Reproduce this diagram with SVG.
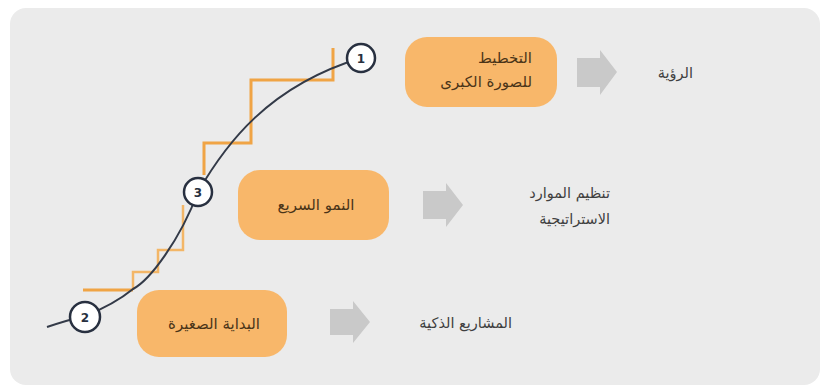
<svg xmlns="http://www.w3.org/2000/svg" width="822" height="389" viewBox="0 0 822 389">
<style>
.box{fill:#f8b76a;}
.btxt{font-family:"DejaVu Sans",sans-serif;font-size:15px;fill:#4a3418;}
.otxt{font-family:"DejaVu Sans",sans-serif;font-size:14.5px;fill:#3f3f3f;}
.arr{fill:#c9c9c9;}
.num{fill:#ffffff;stroke:#283040;stroke-width:2.5;}
.ntxt{font-family:"DejaVu Sans",sans-serif;font-size:12px;font-weight:bold;fill:#283040;text-anchor:middle;}
.stair{fill:none;stroke:#f0a445;stroke-width:3;}
.stair2{fill:none;stroke:#f3b667;stroke-width:2.5;}
.curve{fill:none;stroke:#333a48;stroke-width:2;}
</style>
<rect x="0" y="0" width="822" height="389" fill="#ffffff"/>
<rect x="10" y="8" width="810" height="377" rx="16" fill="#ebebeb"/>
<g id="connectors">
<path class="stair" d="M333,48 V80 H251 V143 H204 V175"/>
<path class="stair2" d="M183,205 V250 H158 V272 H133 V290"/>
<path class="stair" d="M83,290 H133"/>
<path class="curve" d="M47,327 C62,322 72,319 85,316 C105,308 122,298 133,289 C150,280 180,240 198,192 C225,145 268,86 361,58"/>
<path id="arrow1" class="arr" d="M577,58 H600 V50 L617,72 L600,95 V87 H577 Z"/>
<path id="arrow2" class="arr" d="M423,191 H446 V183 L463,205 L446,227 V219 H423 Z"/>
<path id="arrow3" class="arr" d="M330,309 H353 V301 L370,322 L353,343 V335 H330 Z"/>
</g>
<g id="step1">
<circle class="num" cx="361" cy="58" r="14"/>
<text class="ntxt" x="361" y="62.5">1</text>
</g>
<g id="step3">
<circle class="num" cx="198" cy="192" r="14"/>
<text class="ntxt" x="198" y="196.5">3</text>
</g>
<g id="step2">
<circle class="num" cx="85" cy="317" r="15"/>
<text class="ntxt" x="85" y="321.5">2</text>
</g>
<g id="box1">
<rect class="box" x="405" y="37" width="152" height="70" rx="22"/>
<text class="btxt" x="532" y="63" text-anchor="end">التخطيط</text>
<text class="btxt" x="532" y="87" text-anchor="end">للصورة الكبرى</text>
</g>
<g id="box2">
<rect class="box" x="238" y="170" width="151" height="70" rx="22"/>
<text class="btxt" x="316" y="210" text-anchor="middle">النمو السريع</text>
</g>
<g id="box3">
<rect class="box" x="137" y="290" width="150" height="67" rx="22"/>
<text class="btxt" x="214" y="329" text-anchor="middle">البداية الصغيرة</text>
</g>
<g id="label1">
<text class="otxt" x="693" y="78" text-anchor="end">الرؤية</text>
</g>
<g id="label2">
<text class="otxt" x="610" y="198" text-anchor="end">تنظيم الموارد</text>
<text class="otxt" x="610" y="224" text-anchor="end">الاستراتيجية</text>
</g>
<g id="label3">
<text class="otxt" x="512" y="328" text-anchor="end">المشاريع الذكية</text>
</g>
</svg>
